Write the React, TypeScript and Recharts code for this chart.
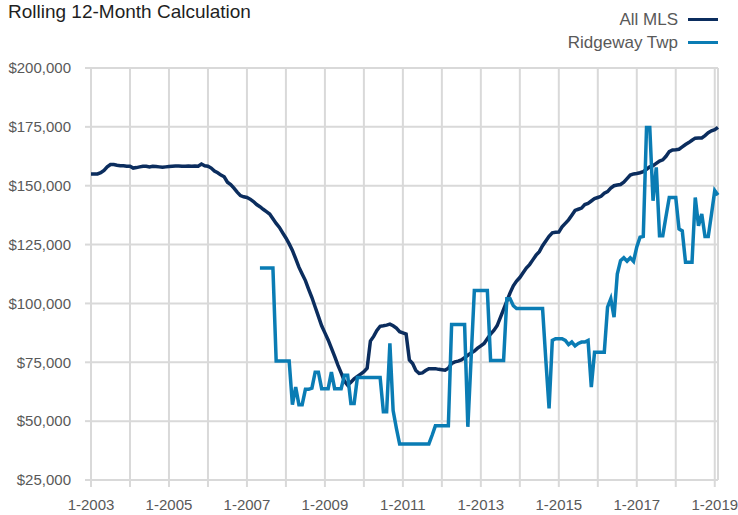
import { LineChart, Line, XAxis, YAxis, CartesianGrid, ReferenceLine } from 'recharts'

// monthly, index 0 = 1-2003
const allMls = [
  155000, 155000, 155000, 155500, 156500, 158000, 159000, 159000, 158700, 158500,
  158500, 158300, 158300, 157500, 157700, 158000, 158300, 158300, 158000, 158300,
  158200, 158000, 157800, 158000, 158200, 158300, 158400, 158400, 158300, 158300,
  158400, 158300, 158400, 158300, 159200, 158500, 158300, 157500, 156200, 155500,
  154500, 153800, 151500, 150500, 149000, 147300, 145800, 145300, 145000, 144300,
  143300, 142000, 141100, 140000, 139000, 138000, 136000, 134000, 132300, 130000,
  127800, 125300, 122500, 119000, 115400, 112500, 109700, 106000, 102500, 98500,
  94500, 90500, 87500, 84500, 81000, 77500, 73800, 70500, 67000, 65300,
  66500, 68000, 69000, 70000, 71000, 72500, 84000, 86000, 88500, 90300,
  90500, 90800, 91200, 90500, 89500, 88000, 87500, 87000, 76000, 74500,
  71500, 70300, 70500, 71500, 72300, 72300, 72300, 72000, 71800, 71600,
  72500, 74500, 75200, 75500, 76000, 77000, 78000, 79000, 79800, 81000,
  82000, 83000, 85000, 87000, 88500, 90500, 94000, 97500, 101000, 104500,
  107500, 109500, 111000, 113000, 115000, 116500, 118500, 120500, 122000, 124500,
  126500, 128500, 130000, 130200, 130300, 132500, 134000, 135500, 137500, 139500,
  140000, 140500, 142000, 142500, 143500, 144500, 145000, 145500, 146800, 147500,
  149000, 150000, 150300, 150500, 151500, 153000, 154500, 155000, 155200, 155500,
  156000, 157000, 158000, 158500, 159500, 160500, 161000, 162500, 164500, 165200,
  165300, 165500, 166500, 167500, 168300, 169300, 170200, 170300, 170300, 171300,
  172500, 173300, 173800, 174800,
]

const ridgeway = [
  null, null, null, null, null, null, null, null, null, null,
  null, null, null, null, null, null, null, null, null, null,
  null, null, null, null, null, null, null, null, null, null,
  null, null, null, null, null, null, null, null, null, null,
  null, null, null, null, null, null, null, null, null, null,
  null, null, 115000, 115000, 115000, 115000, 115000, 75500, 75500, 75500,
  75500, 75500, 57000, 64500, 57000, 57000, 63500, 63500, 64000, 70800,
  70800, 63800, 63800, 63800, 70800, 63800, 63800, 63800, 69500, 69500,
  57500, 57500, 68500, 68500, 68500, 68500, 68500, 68500, 68500, 68500,
  54000, 54000, 83000, 54500, 47000, 40300, 40300, 40300, 40300, 40300,
  40300, 40300, 40300, 40300, 40300, 44000, 48000, 48000, 48000, 48000,
  48000, 91000, 91000, 91000, 91000, 91000, 47600, 76500, 105500, 105500,
  105500, 105500, 105500, 75800, 75800, 75800, 75800, 75800, 102000, 102000,
  99000, 97800, 97800, 97800, 97800, 97800, 97800, 97800, 97800, 97800,
  76000, 55400, 84300, 85000, 85000, 85000, 84300, 82500, 83600, 82000,
  83000, 83600, 83600, 84300, 64500, 79300, 79300, 79300, 79300, 98400,
  102000, 94200, 112500, 118200, 119400, 117900, 119400, 117900, 124000, 128100,
  128500, 174700, 174700, 143600, 157800, 128800, 128800, 137000, 145000, 145000,
  145000, 131600, 130800, 117500, 117500, 117500, 145000, 133000, 138000, 128400,
  128400, 138000, 147900, 146000,
]

const yearTicks = [0, 12, 24, 36, 48, 60, 72, 84, 96, 108, 120, 132, 144, 156, 168, 180, 192]
const yearLabels = [
  '1-2003', '', '1-2005', '', '1-2007', '', '1-2009', '', '1-2011', '',
  '1-2013', '', '1-2015', '', '1-2017', '', '1-2019',
]
const yTicks = [25000, 50000, 75000, 100000, 125000, 150000, 175000, 200000]

const data = allMls.map((v, i) => ({ i, allMls: v, ridgeway: ridgeway[i] }))

const NAVY = '#0b2d5e'
const BLUE = '#0a7cb4'
const GRID = '#d9d9d9'
const FONT = '"Liberation Sans", Arial, sans-serif'

export default function App() {
  return (
    <div style={{ position: 'absolute', left: 0, top: 0, width: 738, height: 515, background: '#fff', fontFamily: FONT }}>
      <div style={{ position: 'absolute', left: 8, top: 1, fontSize: 19, lineHeight: '22px', color: '#1f1f1f' }}>
        Rolling 12-Month Calculation
      </div>
      <div style={{ position: 'absolute', right: 20, top: 8, fontSize: 17, color: '#595959' }}>
        {[
          { name: 'All MLS', color: NAVY },
          { name: 'Ridgeway Twp', color: BLUE },
        ].map((s) => (
          <div key={s.name} style={{ display: 'flex', alignItems: 'center', justifyContent: 'flex-end', height: 23 }}>
            <span>{s.name}</span>
            <span style={{ display: 'inline-block', width: 30, height: 3, background: s.color, marginLeft: 10 }} />
          </div>
        ))}
      </div>
      <LineChart width={738} height={515} data={data} margin={{ top: 68, right: 20, left: 0, bottom: 0 }}>
        <CartesianGrid stroke={GRID} strokeWidth={2} />
        <XAxis
          dataKey="i"
          type="number"
          domain={[0, 193]}
          ticks={yearTicks}
          tickFormatter={(v) => yearLabels[yearTicks.indexOf(v)] ?? ''}
          interval={0}
          height={35}
          axisLine={{ stroke: GRID, strokeWidth: 2 }}
          tickLine={{ stroke: GRID, strokeWidth: 2 }}
          tickSize={7}
          tickMargin={12}
          tick={{ fill: '#595959', fontSize: 15, fontFamily: FONT }}
        />
        <YAxis
          type="number"
          domain={[25000, 200000]}
          ticks={yTicks}
          interval={0}
          width={91}
          axisLine={false}
          tickLine={{ stroke: GRID, strokeWidth: 2 }}
          tickSize={6}
          tickMargin={14}
          tickFormatter={(v) => '$' + Number(v).toLocaleString('en-US')}
          tick={{ fill: '#595959', fontSize: 15, fontFamily: FONT }}
        />
        <ReferenceLine x={193} stroke={GRID} strokeWidth={2} />
        <Line
          dataKey="allMls"
          name="All MLS"
          type="linear"
          stroke={NAVY}
          strokeWidth={3.5}
          dot={false}
          isAnimationActive={false}
        />
        <Line
          dataKey="ridgeway"
          name="Ridgeway Twp"
          type="linear"
          stroke={BLUE}
          strokeWidth={3.5}
          dot={false}
          isAnimationActive={false}
        />
      </LineChart>
    </div>
  )
}
